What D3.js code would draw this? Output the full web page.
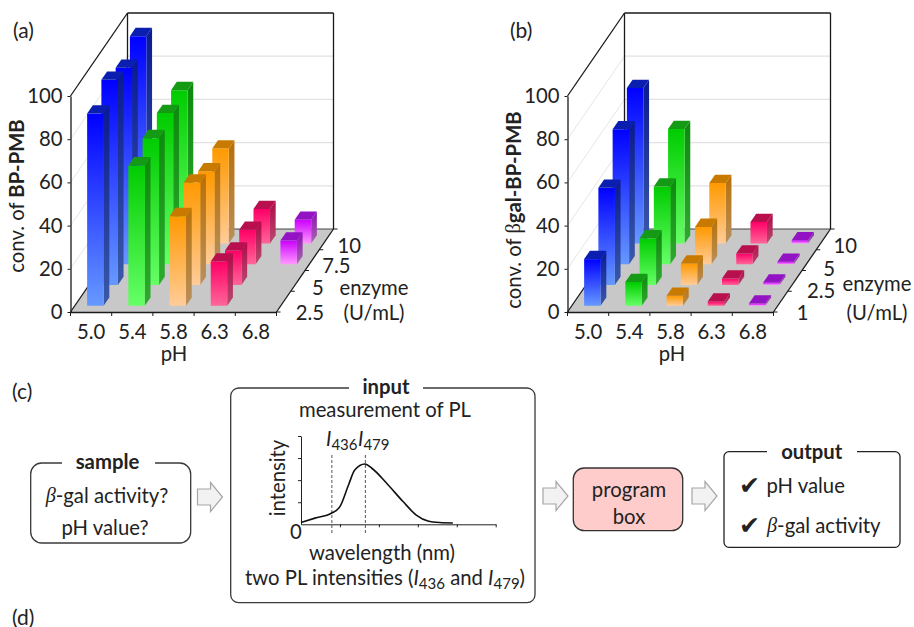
<!DOCTYPE html>
<html><head><meta charset="utf-8">
<script src="https://cdn.jsdelivr.net/npm/d3@7"></script>
<style>
html,body{margin:0;padding:0;background:#fff}
svg{display:block}
text{font-family:Lato,"Noto Sans",sans-serif;fill:#222}
</style></head><body>
<svg id="c" width="914" height="627"></svg>
<script>
const phLabels = ["5.0","5.4","5.8","6.3","6.8"];
const enzymeA = ["2.5","5","7.5","10"];
const enzymeB = ["1","2.5","5","10"];
const yTicks = [0,20,40,60,80,100];
// one list per enzyme level, values in pH order
const convA_row0 = [89,65,41.5,20.5,0];
const convA_row1 = [95,68,47.5,16,0];
const convA_row2 = [91,70,43,16,11];
const convA_row3 = [96,71,44,16,11];
const convB_row0 = [21.6,11,4.6,2,1];
const convB_row1 = [45,21.6,10,3,1.2];
const convB_row2 = [62.5,36,17.3,5,1.2];
const convB_row3 = [72,53,28,10,1.5];
// PL spectrum
const wavelengths = [397,415,436,447,458,466,479,488,507,528,545,560,575,592];
const intensities = [0.08,0.28,0.5,0.8,1.78,2.46,2.73,2.54,1.86,1.03,0.42,0.15,0.08,0.06];
const wlTicks = [447,497,547,597,647];
const intTicks = [1,2,3,4];

const palettes = [
 {top:"#0a1fb0",a:"#0000ff",b:"#6699ff",s1:"#0a1a90",s2:"#3a5aa8"},
 {top:"#149a14",a:"#00cc00",b:"#66ff66",s1:"#0c8a0c",s2:"#2faa2f"},
 {top:"#c87a00",a:"#ff9900",b:"#ffcc99",s1:"#b87008",s2:"#b8905c"},
 {top:"#b80f4e",a:"#ff0066",b:"#ff6699",s1:"#b00a48",s2:"#b84a70"},
 {top:"#9212c4",a:"#cc00ff",b:"#ff99ff",s1:"#8a10b0",s2:"#a868b0"}
];
const svg = d3.select("#c");
const defs = svg.append("defs");
palettes.forEach((p,i)=>{
  const g=defs.append("linearGradient").attr("id","f"+i).attr("x1",0).attr("y1",0).attr("x2",0).attr("y2",1);
  g.append("stop").attr("offset",0).attr("stop-color",p.a);
  g.append("stop").attr("offset",1).attr("stop-color",p.b);
  const s=defs.append("linearGradient").attr("id","s"+i).attr("x1",0).attr("y1",0).attr("x2",0).attr("y2",1);
  s.append("stop").attr("offset",0).attr("stop-color",p.s1);
  s.append("stop").attr("offset",1).attr("stop-color",p.s2);
});
const FS=20.3;
function txt(g,x,y,s,o={}){
  const t=g.append("text").attr("x",x).attr("y",y).attr("dominant-baseline",o.base||"central")
    .attr("text-anchor",o.anchor||"middle").style("font-size",(o.size||FS)+"px");
  if(o.bold)t.style("font-weight",700);
  if(o.rot!=null)t.attr("transform",`rotate(${o.rot} ${x} ${y})`);
  (Array.isArray(s)?s:[s]).forEach(p=>{
    if(typeof p==="string"){t.append("tspan").text(p);return;}
    const ts=t.append("tspan").text(p.t);
    if(p.font)ts.style("font-family",p.font);
    if(p.i)ts.style("font-style","italic");
    if(p.b)ts.style("font-weight",700);
    if(p.size)ts.style("font-size",p.size+"px");
    if(p.dy!=null)ts.attr("dy",p.dy);
  });
  return t;
}
function panel(c){
  const g=svg.append("g");
  const W=206,H=216,DX=57,DY=83;
  const x0=c.x0,y0=312;
  const x=d3.scaleBand().domain(phLabels).range([x0,x0+W]).paddingInner(.6).paddingOuter(.3);
  const z=d3.scaleBand().domain(c.enz).range([0,1]).paddingInner(.6).paddingOuter(.3);
  const y=d3.scaleLinear().domain([0,100]).range([y0,y0-H]);
  const P=(px,d,val)=>[px+d*DX,y(val)-d*DY];
  const line=d3.line();
  const poly=pts=>"M"+pts.map(p=>p.join(",")).join("L")+"Z";
  g.append("path").attr("d",poly([P(x0,0,0),P(x0+W,0,0),P(x0+W,1,0),P(x0,1,0)])).attr("fill","#c8c8c8");
  yTicks.filter(v=>v>0).forEach(v=>{
    g.append("path").attr("d",line([P(x0,0,v),P(x0,1,v)])).attr("stroke","#e6e6e6").attr("fill","none");
    if(v<100)g.append("path").attr("d",line([P(x0,1,v),P(x0+W,1,v)])).attr("stroke","#e2e2e2").attr("stroke-width",1.2).attr("fill","none");
  });
  const fr=(a,b,w=1.3,col="#1a1a1a")=>g.append("path").attr("d",line([a,b])).attr("stroke",col).attr("stroke-width",w).attr("fill","none");
  fr(P(x0,0,100),P(x0,1,100));
  fr(P(x0,1,100),P(x0+W,1,100));
  fr(P(x0+W,1,100),P(x0+W,1,0));
  fr(P(x0,1,100),P(x0,1,0));
  fr(P(x0,1,0),P(x0+W,1,0),1,"#444");
  fr(P(x0,0,0),P(x0,1,0));
  fr(P(x0+W,0,0),P(x0+W,1,0));
  for(let r=c.rows.length-1;r>=0;r--){
    const en=c.enz[r];
    c.rows[r].forEach((v,i)=>{
      if(!v)return;
      const l=x(phLabels[i]),rr=l+x.bandwidth(),d1=z(en),d2=d1+z.bandwidth();
      const b=g.append("g").attr("class","bar");
      b.append("path").attr("d",poly([P(rr,d1,v),P(rr,d2,v),P(rr,d2,0),P(rr,d1,0)])).attr("fill",`url(#s${i})`);
      b.append("path").attr("d",poly([P(l,d1,v),P(rr,d1,v),P(rr,d1,0),P(l,d1,0)])).attr("fill",`url(#f${i})`);
      b.append("path").attr("d",poly([P(l,d1,v),P(rr,d1,v),P(rr,d2,v),P(l,d2,v)])).attr("fill",palettes[i].top);
    });
  }
  const ay=g.append("g").attr("transform",`translate(${x0},0)`)
    .call(d3.axisLeft(y).tickValues(yTicks).tickSize(3).tickPadding(5).tickSizeOuter(0));
  ay.select(".domain").attr("stroke","#1a1a1a").attr("stroke-width",1.3);
  ay.selectAll("line").attr("stroke","#1a1a1a");
  ay.selectAll("text").style("font-size",FS+"px").attr("fill","#222").style("font-family","Lato");
  const ax=g.append("g").attr("transform",`translate(0,${y0})`)
    .call(d3.axisBottom(x).tickSize(0).tickPadding(13).tickSizeOuter(0));
  ax.select(".domain").attr("stroke","#1a1a1a").attr("stroke-width",1.3);
  ax.selectAll("text").style("font-size",FS+"px").attr("fill","#222").style("font-family","Lato");
  d3.range(0,6).forEach(k=>{
    const px=x0+k*x.step();
    g.append("path").attr("d",line([[px,y0],[px,y0+4]])).attr("stroke","#1a1a1a");
  });
  d3.range(0,5).forEach(k=>{
    const p=P(x0+W,k/4,0);
    g.append("path").attr("d",line([p,[p[0]+4,p[1]]])).attr("stroke","#1a1a1a");
  });
  c.enz.forEach((e,k)=>{
    const p=P(x0+W,z(e)+z.bandwidth()/2,0);
    txt(g,p[0]+c.ldx[k],p[1]+c.ldy[k],e,{anchor:"start"});
  });
  txt(g,c.pH,353,"pH");
  txt(g,c.ex,c.ey,"enzyme");
  txt(g,c.ex,312,"(U/mL)");
  txt(g,c.tx,c.ty,c.title,{rot:-90});
  txt(g,c.lx,29,c.label,{anchor:"start",size:21});
}
panel({x0:70.5,enz:enzymeA,rows:[convA_row0,convA_row1,convA_row2,convA_row3],
  ldx:[12,14,10,11],ldy:[10,6,5,6],pH:174,ex:374,ey:287,tx:16,ty:196,lx:13,label:"(a)",
  title:["conv. of ",{t:"BP-PMB",b:1}]});
panel({x0:567.5,enz:enzymeB,rows:[convB_row0,convB_row1,convB_row2,convB_row3],
  ldx:[16,12,14,10],ldy:[10,9,8,6],pH:672,ex:877,ey:283,tx:513,ty:210,lx:510,label:"(b)",
  title:["conv. of ",{t:"β",font:"'Liberation Serif'"},{t:"gal-BP-PMB",b:1}]});

const d=svg.append("g");
txt(d,12,390,"(c)",{anchor:"start",size:21});
txt(d,12,616,"(d)",{anchor:"start",size:21});
function box(x,y,w,h,r,gap,o={}){
  d.append("rect").attr("x",x).attr("y",y).attr("width",w).attr("height",h).attr("rx",r)
   .attr("fill",o.fill||"#fff").attr("stroke",o.stroke||"#3a3a3a").attr("stroke-width",1.3);
  if(gap)d.append("rect").attr("x",gap[0]).attr("y",y-2).attr("width",gap[1]-gap[0]).attr("height",4).attr("fill","#fff");
}
function arrow(x,cy){
  const w=25,hh=14.5,sh=8,hx=x+13;
  d.append("path").attr("d",`M${x},${cy-sh}H${hx}V${cy-hh}L${x+w},${cy}L${hx},${cy+hh}V${cy+sh}H${x}Z`)
   .attr("fill","#f2f2f2").attr("stroke","#a6a6a6").attr("stroke-width",1.2);
}
const beta={t:"β",font:"'Liberation Serif'",i:1};
box(30.7,463,160,80,11,[62,155]);
txt(d,107.5,461,"sample",{bold:1});
txt(d,107,495,[beta,"-gal activity?"]);
txt(d,105,527,"pH value?");
arrow(197.5,497);
box(230.7,388,304.3,214.7,8,[349,423]);
txt(d,386,385.5,"input",{bold:1});
txt(d,385,408.5,"measurement of PL");
const ix=d3.scaleLinear().domain([397,647]).range([301,495.7]);
const iy=d3.scaleLinear().domain([0,4]).range([524.3,436]);
const gi=d.append("g");
gi.append("g").attr("transform","translate(0,524.3)").call(d3.axisBottom(ix).tickValues(wlTicks).tickFormat("").tickSize(3).tickSizeOuter(0));
gi.append("g").attr("transform","translate(301,0)").call(d3.axisLeft(iy).tickValues(intTicks).tickFormat("").tickSize(3).tickSizeOuter(0));
gi.selectAll(".domain,line").attr("stroke","#222").attr("stroke-width",1);
[436,479].forEach(w=>{
  gi.append("line").attr("x1",ix(w)+.5).attr("x2",ix(w)+.5).attr("y1",455).attr("y2",533)
    .attr("stroke","#555").attr("stroke-dasharray","3 2").attr("stroke-width",1);
});
gi.append("path").attr("d",d3.line().x(w=>ix(w)).y((w,i)=>iy(intensities[i])).curve(d3.curveMonotoneX)(wavelengths))
  .attr("fill","none").attr("stroke","#111").attr("stroke-width",1.6);
const sub=(s)=>({t:s,size:15,dy:4});
txt(d,326,446,[{t:"I",i:1},sub("436")],{anchor:"start",base:"auto"});
txt(d,358,446,[{t:"I",i:1},sub("479")],{anchor:"start",base:"auto"});
txt(d,296,531,"0");
txt(d,277,478,"intensity",{rot:-90});
txt(d,382,552,"wavelength (nm)");
const t=d.append("text").attr("x",385).attr("y",585).attr("text-anchor","middle").style("font-size",FS+"px");
t.append("tspan").text("two PL intensities (");
t.append("tspan").text("I").style("font-style","italic");
t.append("tspan").text("436").style("font-size","15px").attr("dy",4);
t.append("tspan").text(" and ").attr("dy",-4);
t.append("tspan").text("I").style("font-style","italic");
t.append("tspan").text("479").style("font-size","15px").attr("dy",4);
t.append("tspan").text(")").attr("dy",-4);
arrow(543,496);
box(573.3,468,109.4,62.7,11,null,{fill:"#ffcccc",stroke:"#333"});
txt(d,629,489,"program");
txt(d,629,516,"box");
arrow(692,496);
box(724,451.7,176,95.6,5,[767,857],{stroke:"#222"});
txt(d,811.7,451,"output",{bold:1});
[485,525].forEach(v=>txt(d,739,v,"✔",{anchor:"start",size:25}).style("font-family","'DejaVu Sans'"));
txt(d,766.5,485,"pH value",{anchor:"start"});
txt(d,767,525,[beta,"-gal activity"],{anchor:"start"});
</script>
</body></html>
